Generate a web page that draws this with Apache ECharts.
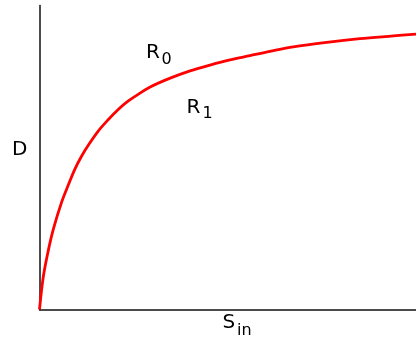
<!DOCTYPE html>
<html>
<head>
<meta charset="utf-8">
<script src="https://cdn.jsdelivr.net/npm/echarts@6/dist/echarts.min.js"></script>
<style>
html,body{margin:0;padding:0;background:#fff;}
#chart{width:416px;height:342px;}
</style>
</head>
<body>
<div id="chart"></div>
<script>
// Curve (relative units: S_in 0..100, D 0..100)
var sIn = [0, 1.0, 2.3, 3.7, 5.9, 7.7, 9.4, 11.2, 13.0, 15.6, 18.3, 20.9, 23.6, 26.5, 29.4, 34.7, 40.0, 45.3, 50.6, 55.9, 61.2, 67.4, 76.3, 85.1, 94.0, 100];
var dVals = [0, 10.7, 19.2, 26.5, 35.4, 41.1, 46.2, 50.5, 54.1, 58.7, 62.5, 65.8, 68.6, 71.0, 73.2, 76.1, 78.5, 80.4, 82.1, 83.5, 84.9, 86.4, 87.9, 89.1, 90.0, 90.6];
var xLabel = 'S';
var xSub = 'in';
var yLabel = 'D';
var r0Main = 'R', r0Sub = '0';
var r1Main = 'R', r1Sub = '1';

var chart = echarts.init(document.getElementById('chart'));
var pts = sIn.map(function(x, i){ return [x, dVals[i]]; });
var font = 'DejaVu Sans';
function txt(s, x, y, size){
  return {type:'text', x:x, y:y, style:{text:s, font: size + 'px "' + font + '"', fill:'#000', textAlign:'left', textVerticalAlign:'middle'}};
}
chart.setOption({
  animation:false,
  grid:{left:39.5, right:0, top:5.5, bottom:32.5},
  xAxis:{type:'value', min:0, max:100, axisLine:{show:true, onZero:false, lineStyle:{color:'#111', width:1.5}}, axisTick:{show:false}, axisLabel:{show:false}, splitLine:{show:false}},
  yAxis:{type:'value', min:0, max:100, axisLine:{show:true, onZero:false, lineStyle:{color:'#111', width:1.5}}, axisTick:{show:false}, axisLabel:{show:false}, splitLine:{show:false}},
  series:[{type:'line', data:pts, smooth:0.35, showSymbol:false, lineStyle:{color:'#ff0000', width:2.8}}],
  graphic:[
    txt(yLabel, 12, 150, 20),
    txt(r0Main, 146, 52.5, 20),
    txt(r0Sub, 161.5, 59.5, 16),
    txt(r1Main, 186.5, 108, 20),
    txt(r1Sub, 202.5, 114, 16),
    txt(xLabel, 222.5, 322.7, 20),
    txt(xSub, 237, 330.5, 16)
  ]
});
</script>
</body>
</html>
